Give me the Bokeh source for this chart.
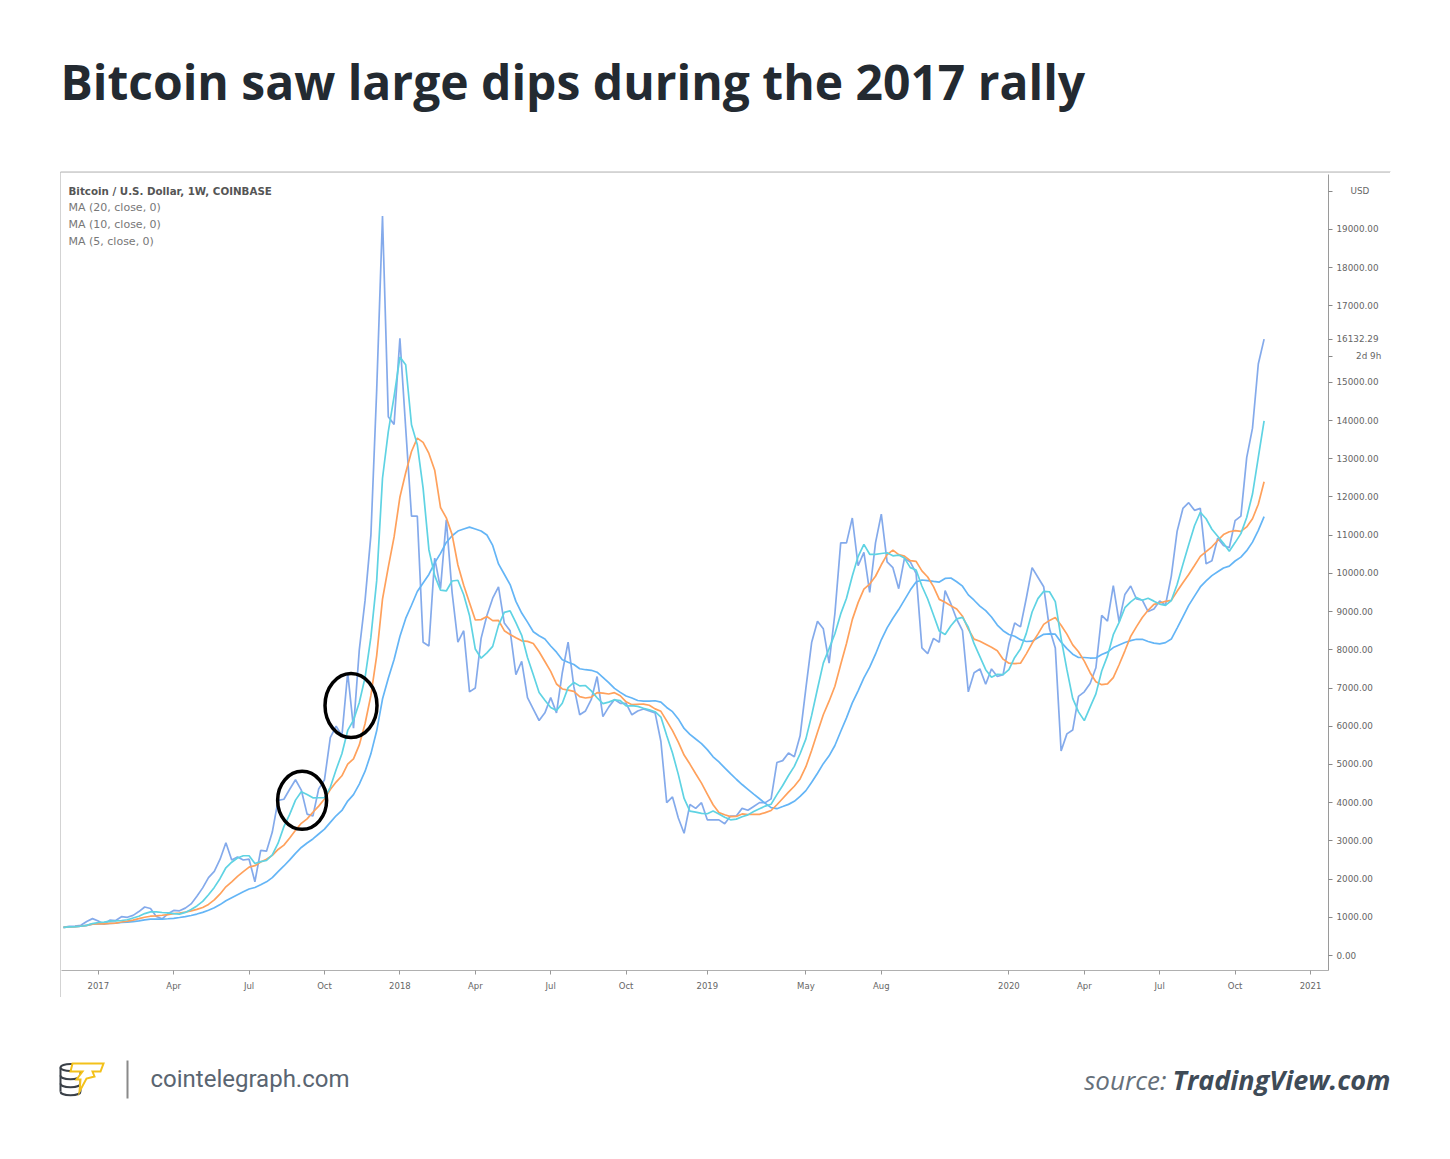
import pandas as pd
from bokeh.plotting import figure
from bokeh.layouts import column, row
from bokeh.models import Range1d, FixedTicker, PrintfTickFormatter, Label, Spacer, ColumnDataSource
from bokeh.embed import file_html
from bokeh.resources import INLINE

# ---------------- data ----------------
TITLE = "Bitcoin saw large dips during the 2017 rally"
SYMBOL_LINE = "Bitcoin / U.S. Dollar, 1W, COINBASE"
MA_LABELS = ["MA (20, close, 0)", "MA (10, close, 0)", "MA (5, close, 0)"]
ma_periods = [20, 10, 5]

first_week = "2016-11-21"   # weekly bars (Monday open)
close_2016 = [735, 765, 770, 790, 890, 965]
close_2017 = [905, 820, 925, 915, 1015, 1000, 1050, 1150, 1270, 1230, 1020, 960, 1090,
              1180, 1170, 1240, 1350, 1550, 1770, 2040, 2200, 2520, 2950, 2500, 2580, 2500,
              2520, 1930, 2750, 2730, 3230, 4060, 4090, 4350, 4600, 4330, 3700, 3650, 4360,
              4600, 5700, 6000, 5750, 7400, 5950, 8000, 9300, 11000, 14800, 19350, 14100, 13900]
close_2018 = [16150, 13800, 11500, 11500, 8200, 8100, 10400, 9600, 11400, 9500, 8200, 8500,
              6900, 7000, 8300, 8900, 9350, 9650, 8700, 8500, 7350, 7700, 6750, 6450, 6150,
              6350, 6750, 6350, 7400, 8200, 7030, 6300, 6400, 6700, 7300, 6250, 6500, 6700,
              6600, 6600, 6300, 6400, 6450, 6400, 6350, 5600, 4000, 4150, 3600, 3200, 3950, 3850]
close_2019 = [4000, 3550, 3550, 3550, 3450, 3650, 3650, 3850, 3800, 3900, 4000, 4000, 4100,
              5050, 5100, 5300, 5200, 5750, 7000, 8200, 8750, 8550, 7650, 8950, 10800, 10800,
              11450, 10200, 10550, 9500, 10800, 11550, 10300, 10150, 9600, 10400, 10300, 10000,
              8050, 7900, 8300, 8200, 9550, 9200, 8800, 8500, 6900, 7400, 7500, 7100, 7500, 7300]
close_2020 = [7350, 8150, 8700, 8600, 9350, 10150, 9900, 9650, 8550, 8050, 5350, 5800, 5900,
              6780, 6900, 7120, 7530, 8900, 8750, 9680, 8730, 9450, 9670, 9330, 9300, 9000,
              9070, 9280, 9170, 9930, 11100, 11700, 11850, 11650, 11700, 10250, 10330, 10920,
              10730, 10670, 11380, 11500, 13030, 13800, 15480, 16132.29]

last_price = 16132.29
countdown = "2d 9h"
currency = "USD"
price_ticks = [0, 1000, 2000, 3000, 4000, 5000, 6000, 7000, 8000, 9000, 10000, 11000,
               12000, 13000, 14000, 15000, 16132.29, 17000, 18000, 19000, 20000]
x_tick_dates = ["2017-01-02", "2017-04-03", "2017-07-03", "2017-10-02", "2018-01-01",
                "2018-04-02", "2018-07-02", "2018-10-01", "2019-01-07", "2019-05-06",
                "2019-08-05", "2020-01-06", "2020-04-06", "2020-07-06", "2020-10-05",
                "2021-01-04"]
x_tick_labels = ["2017", "Apr", "Jul", "Oct", "2018", "Apr", "Jul", "Oct", "2019", "May",
                 "Aug", "2020", "Apr", "Jul", "Oct", "2021"]
circle_dates = ["2017-09-05", "2017-11-03"]
circle_values = [4060, 6540]

# ---------------- derived series ----------------
close = close_2016 + close_2017 + close_2018 + close_2019 + close_2020
weeks = pd.date_range(first_week, periods=len(close), freq="7D")
s = pd.Series(close, index=weeks, dtype=float)
src = ColumnDataSource(dict(
    t=weeks, close=close,
    ma20=s.rolling(ma_periods[0], min_periods=1).mean().values,
    ma10=s.rolling(ma_periods[1], min_periods=1).mean().values,
    ma5=s.rolling(ma_periods[2], min_periods=1).mean().values,
))

# ---------------- layout helpers (page pixel geometry) ----------------
ANCHOR = pd.Timestamp("2017-12-11"); ANCHOR_PX = 382.0; PX_WEEK = 5.8
ZERO_PY = 955.0; PX_UNIT = 0.038211


def px2ms(px):
    return (ANCHOR + pd.Timedelta(days=(px - ANCHOR_PX) / PX_WEEK * 7)).value / 1e6


def py2v(py):
    return (ZERO_PY - py) / PX_UNIT


def ms(d):
    return pd.Timestamp(d).value / 1e6


FONT = "Open Sans"
AXFONT = "DejaVu Sans"
NBSP = "\u00a0"
W = 1450

# ---------------- header ----------------
hdr = figure(width=W, height=172, x_range=Range1d(0, W), y_range=Range1d(172, 0),
             output_backend="svg", toolbar_location=None, min_border=0,
             x_axis_location=None, y_axis_location=None, outline_line_color=None)
hdr.grid.visible = False
hdr.add_layout(Label(x=60, y=81, text=TITLE, text_font=FONT, text_font_style="bold",
                     text_font_size="48px", text_color="#232a31",
                     text_baseline="alphabetic"))
hdr.segment(x0=[60], y0=[171.5], x1=[1390], y1=[171.5], line_color="#b4b4b4", line_width=1)

# ---------------- chart ----------------
p = figure(width=1330, height=825, x_axis_type="datetime", y_axis_location="right",
           x_range=Range1d(px2ms(61), px2ms(1328)), y_range=Range1d(py2v(970), py2v(174)),
           output_backend="svg", toolbar_location=None,
           min_border_left=1, min_border_right=62, min_border_top=2, min_border_bottom=27,
           outline_line_color=None, background_fill_color="white")
p.styles = {"outline": "1px solid #c4c4c4", "outline-offset": "-1px"}
p.grid.visible = False

p.line("t", "close", source=src, line_color="#6e9be8", line_alpha=0.85, line_width=1.7)
p.line("t", "ma20", source=src, line_color="#64b5f6", line_width=1.7)
p.line("t", "ma10", source=src, line_color="#ffa15c", line_width=1.7)
p.line("t", "ma5", source=src, line_color="#5fd3e3", line_width=1.7)

p.ellipse(x=[pd.Timestamp(d) for d in circle_dates], y=circle_values,
          width=[49, 52], height=[58, 64], width_units="screen", height_units="screen",
          fill_alpha=0, line_color="black", line_width=3.5)

# price scale (right): the countdown sits 17px under the last-price label,
# the currency badge replaces the top label as in TradingView
countdown_tick = last_price - 17 / PX_UNIT
ya = p.yaxis[0]
ya.ticker = FixedTicker(ticks=price_ticks + [countdown_tick])
ya.formatter = PrintfTickFormatter(format="%.2f")
ya.major_label_overrides = {price_ticks[-1]: NBSP * 5 + currency,
                            countdown_tick: NBSP * 7 + countdown}
ya.major_label_text_font = AXFONT
ya.major_label_text_font_size = "8.8px"
ya.major_label_text_color = "#666666"
ya.major_tick_in = 0
ya.major_tick_out = 4
ya.minor_tick_in = 0
ya.minor_tick_out = 0
ya.major_tick_line_color = "#888888"
ya.axis_line_color = "#9a9a9a"
ya.major_label_standoff = 4

xa = p.xaxis[0]
tick_ms = [ms(d) for d in x_tick_dates]
xa.ticker = FixedTicker(ticks=tick_ms)
xa.major_label_overrides = {t: l for t, l in zip(tick_ms, x_tick_labels)}
xa.major_label_text_font = AXFONT
xa.major_label_text_font_size = "8.5px"
xa.major_label_text_color = "#666666"
xa.major_tick_in = 0
xa.major_tick_out = 4
xa.minor_tick_in = 0
xa.minor_tick_out = 0
xa.major_tick_line_color = "#999999"
xa.axis_line_color = "#b0b0b0"
xa.major_label_standoff = 6

# TradingView legend lines
legend_y = [190, 207, 224, 241]
for i, txt in enumerate([SYMBOL_LINE] + MA_LABELS):
    p.add_layout(Label(x=px2ms(68), y=py2v(legend_y[i]), text=txt, text_font=AXFONT,
                       text_font_size="10.3px" if i == 0 else "11px",
                       text_baseline="middle",
                       text_font_style="bold" if i == 0 else "normal",
                       text_color="#555555" if i == 0 else "#777777"))

chart_row = row(Spacer(width=60, height=825), p)

# ---------------- footer ----------------
ftr = figure(width=W, height=162, x_range=Range1d(0, W), y_range=Range1d(162, 0),
             output_backend="svg", toolbar_location=None, min_border=0,
             x_axis_location=None, y_axis_location=None, outline_line_color=None)
ftr.grid.visible = False
# coin stack
ftr.ellipse(x=[70], y=[70], width=[20], height=[7], fill_alpha=0,
            line_color="#3a4048", line_width=2)
ftr.segment(x0=[60, 80], y0=[70, 70], x1=[60, 80], y1=[94, 94],
            line_color="#3a4048", line_width=2)
ftr.bezier(x0=[60, 60, 60], y0=[78, 86, 94], x1=[80, 80, 80], y1=[78, 86, 94],
           cx0=[60, 60, 60], cy0=[83, 91, 99], cx1=[80, 80, 80], cy1=[83, 91, 99],
           line_color="#3a4048", line_width=2)
# lightning T
bolt_x = [72, 103, 100, 92, 94, 86, 79, 80, 76, 82, 70]
bolt_y = [66, 66, 74, 74, 79, 81, 94, 82, 82, 74, 74]
ftr.patch(bolt_x, bolt_y, fill_color="white", line_color="#f3c11b", line_width=2,
          line_join="miter")
ftr.segment(x0=[127], y0=[63], x1=[127], y1=[101], line_color="#8a8a8a", line_width=2)
ftr.add_layout(Label(x=150, y=81, text="cointelegraph.com", text_font="Roboto",
                     text_font_size="24px", text_color="#5a6571", text_baseline="middle"))
ftr.add_layout(Label(x=1390, y=82, text="TradingView.com", text_font=FONT,
                     text_font_size="27px", text_font_style="bold italic",
                     text_color="#3f4b57", text_align="right", text_baseline="middle"))
ftr.add_layout(Label(x=1166, y=82, text="source:", text_font=FONT,
                     text_font_size="26px", text_font_style="italic",
                     text_color="#66707a", text_align="right", text_baseline="middle"))

page = column(hdr, chart_row, ftr)
open("out.html", "w").write(file_html(page, INLINE))
